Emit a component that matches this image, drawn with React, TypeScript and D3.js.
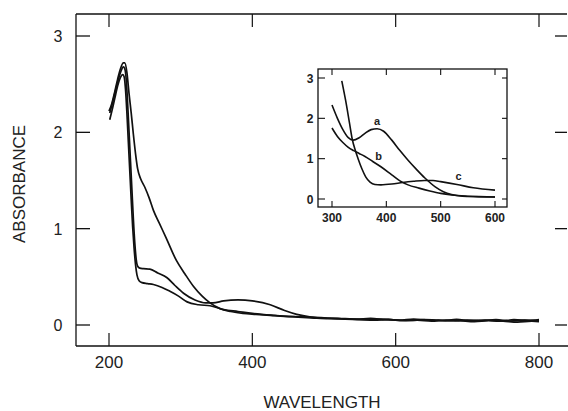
import React from "react";
import * as d3 from "d3";

// ---------- main chart data ----------
const xTicks = [200, 400, 600, 800];
const yTicks = [0, 1, 2, 3];

const wlA = [200,204,208,212,216,220,222,225,228,231,234,237,240,244,250,256,262,270,280,294,306,318,330,341,355,370,387,405,425,445,465,485,505,525,545,565,585,605,625,645,665,685,705,725,745,765,785,800];
const absA = [2.22,2.3,2.42,2.55,2.66,2.72,2.72,2.62,2.4,2.2,1.98,1.78,1.62,1.52,1.43,1.32,1.19,1.06,0.9,0.67,0.53,0.4,0.3,0.23,0.17,0.14,0.12,0.11,0.1,0.09,0.085,0.08,0.07,0.065,0.06,0.068,0.055,0.05,0.062,0.05,0.045,0.058,0.045,0.052,0.04,0.055,0.045,0.055];

const wlB = [201,204,208,212,216,220,222,224,226,228,230,232,234,236,238,240,243,248,257,268,281,292,304,320,335,345,360,380,400,425,445,462,480,500,520,540,560,580,600,620,640,660,680,700,720,740,760,780,800];
const absB = [2.2,2.28,2.4,2.52,2.62,2.68,2.66,2.55,2.3,2.0,1.7,1.4,1.1,0.85,0.68,0.61,0.59,0.585,0.58,0.54,0.49,0.41,0.33,0.26,0.23,0.23,0.25,0.26,0.25,0.21,0.15,0.11,0.085,0.075,0.07,0.062,0.058,0.06,0.052,0.048,0.055,0.05,0.042,0.05,0.045,0.055,0.04,0.05,0.045];

const wlC = [201,204,208,212,216,219,221,223,225,227,229,231,233,235,237,239,242,246,254,262,274,285,297,309,325,341,360,380,400,430,460,490,510,530,550,570,590,610,630,650,670,690,710,730,750,770,790,800];
const absC = [2.13,2.22,2.35,2.48,2.57,2.6,2.58,2.45,2.2,1.9,1.6,1.3,1.02,0.8,0.63,0.52,0.46,0.44,0.43,0.42,0.39,0.35,0.3,0.24,0.21,0.2,0.16,0.14,0.12,0.1,0.085,0.07,0.065,0.06,0.055,0.05,0.058,0.045,0.05,0.04,0.052,0.045,0.035,0.045,0.04,0.03,0.04,0.035];

// ---------- inset data ----------
const insetXTicks = [300, 400, 500, 600];
const insetYTicks = [0, 1, 2, 3];

const wlIa = [300,310,320,330,339,350,360,372,383,395,410,425,440,455,471,490,505,520,540,570,600];
const absIa = [2.33,2.0,1.72,1.52,1.46,1.52,1.62,1.72,1.74,1.68,1.46,1.2,0.96,0.74,0.52,0.3,0.18,0.11,0.07,0.06,0.05];

const wlIb = [300,310,320,330,340,350,360,375,390,410,425,440,460,480,500,520,550,600];
const absIb = [1.76,1.55,1.4,1.28,1.2,1.13,1.06,0.93,0.8,0.6,0.45,0.35,0.27,0.2,0.14,0.1,0.07,0.05];

const wlIc = [318,325,332,337,343,348,355,362,370,379,390,410,430,450,470,486,500,530,560,600];
const absIc = [2.93,2.45,1.9,1.5,1.2,1.0,0.75,0.55,0.42,0.36,0.35,0.37,0.41,0.44,0.46,0.46,0.43,0.36,0.28,0.22];

const insetLabels = ["a", "b", "c"];
const insetLabelPos = [[383, 1.83], [386, 0.97], [533, 0.47]];

const FONT = "'Liberation Sans', Arial, sans-serif";

export default function App() {
  // main scales
  const x = d3.scaleLinear().domain([200, 800]).range([109, 539]);
  const y = d3.scaleLinear().domain([0, 3]).range([325, 36]);
  const left = 76, top = 14, bottom = 346, right = 567;

  const line = (wl: number[], ab: number[], sx: any, sy: any) =>
    d3.line<number>().x((_, i) => sx(wl[i])).y((_, i) => sy(ab[i])).curve(d3.curveMonotoneX)(wl.map((_, i) => i)) || "";

  // inset scales
  const ix = d3.scaleLinear().domain([300, 600]).range([332, 495]);
  const iy = d3.scaleLinear().domain([0, 3]).range([199, 78]);
  const iL = 318, iT = 69, iR = 507, iB = 207;

  const stroke = "#111";

  return (
    <svg width={568} height={411} style={{ position: "absolute", left: 0, top: 0, background: "#fff" }} fontFamily={FONT}>
      <rect x={0} y={0} width={568} height={411} fill="#fff" />
      {/* main frame */}
      <line x1={left} y1={top} x2={right} y2={top} stroke={stroke} strokeWidth={1.3} />
      <line x1={left} y1={top} x2={left} y2={bottom} stroke={stroke} strokeWidth={1.3} />
      <line x1={left} y1={bottom} x2={568} y2={bottom} stroke={stroke} strokeWidth={1.3} />
      {xTicks.map((t) => (
        <g key={"xt" + t}>
          <line x1={x(t)} x2={x(t)} y1={bottom} y2={bottom - 13} stroke={stroke} strokeWidth={1.2} />
          <line x1={x(t)} x2={x(t)} y1={top} y2={top + 13} stroke={stroke} strokeWidth={1.2} />
          <text x={x(t)} y={368} textAnchor="middle" fontSize={17} fill="#222">{t}</text>
        </g>
      ))}
      {yTicks.map((t) => (
        <g key={"yt" + t}>
          <line x1={left} x2={left + 14} y1={y(t)} y2={y(t)} stroke={stroke} strokeWidth={1.3} />
          <line x1={555} x2={567} y1={y(t)} y2={y(t)} stroke={stroke} strokeWidth={1.3} />
          <text x={58} y={y(t) + 6} textAnchor="middle" fontSize={16} fill="#222">{t}</text>
        </g>
      ))}
      <text x={322} y={408} textAnchor="middle" fontSize={17} fill="#222">WAVELENGTH</text>
      <text transform="translate(25,184) rotate(-90)" textAnchor="middle" fontSize={17} fill="#222">ABSORBANCE</text>

      {/* main curves */}
      <path d={line(wlA, absA, x, y)} fill="none" stroke={stroke} strokeWidth={1.7} />
      <path d={line(wlB, absB, x, y)} fill="none" stroke={stroke} strokeWidth={1.7} />
      <path d={line(wlC, absC, x, y)} fill="none" stroke={stroke} strokeWidth={1.7} />

      {/* inset */}
      <rect x={iL} y={iT} width={iR - iL} height={iB - iT} fill="#fff" stroke={stroke} strokeWidth={1.3} />
      {insetXTicks.map((t) => (
        <g key={"ixt" + t}>
          <line x1={ix(t)} x2={ix(t)} y1={iB} y2={iB - 6} stroke={stroke} strokeWidth={1.1} />
          <line x1={ix(t)} x2={ix(t)} y1={iT} y2={iT + 6} stroke={stroke} strokeWidth={1.1} />
          <text x={ix(t)} y={222} textAnchor="middle" fontSize={12} fontWeight="bold" fill="#222">{t}</text>
        </g>
      ))}
      {insetYTicks.map((t) => (
        <g key={"iyt" + t}>
          <line x1={iL} x2={iL + 7} y1={iy(t)} y2={iy(t)} stroke={stroke} strokeWidth={1.1} />
          <line x1={iR - 5} x2={iR} y1={iy(t)} y2={iy(t)} stroke={stroke} strokeWidth={1.1} />
          <text x={310} y={iy(t) + 4.5} textAnchor="middle" fontSize={12} fontWeight="bold" fill="#222">{t}</text>
        </g>
      ))}
      <path d={line(wlIa, absIa, ix, iy)} fill="none" stroke={stroke} strokeWidth={1.6} />
      <path d={line(wlIb, absIb, ix, iy)} fill="none" stroke={stroke} strokeWidth={1.6} />
      <path d={line(wlIc, absIc, ix, iy)} fill="none" stroke={stroke} strokeWidth={1.6} />
      {insetLabels.map((l, i) => (
        <text key={l} x={ix(insetLabelPos[i][0])} y={iy(insetLabelPos[i][1])} textAnchor="middle" fontSize={11} fontWeight="bold" fill="#222">{l}</text>
      ))}
    </svg>
  );
}
